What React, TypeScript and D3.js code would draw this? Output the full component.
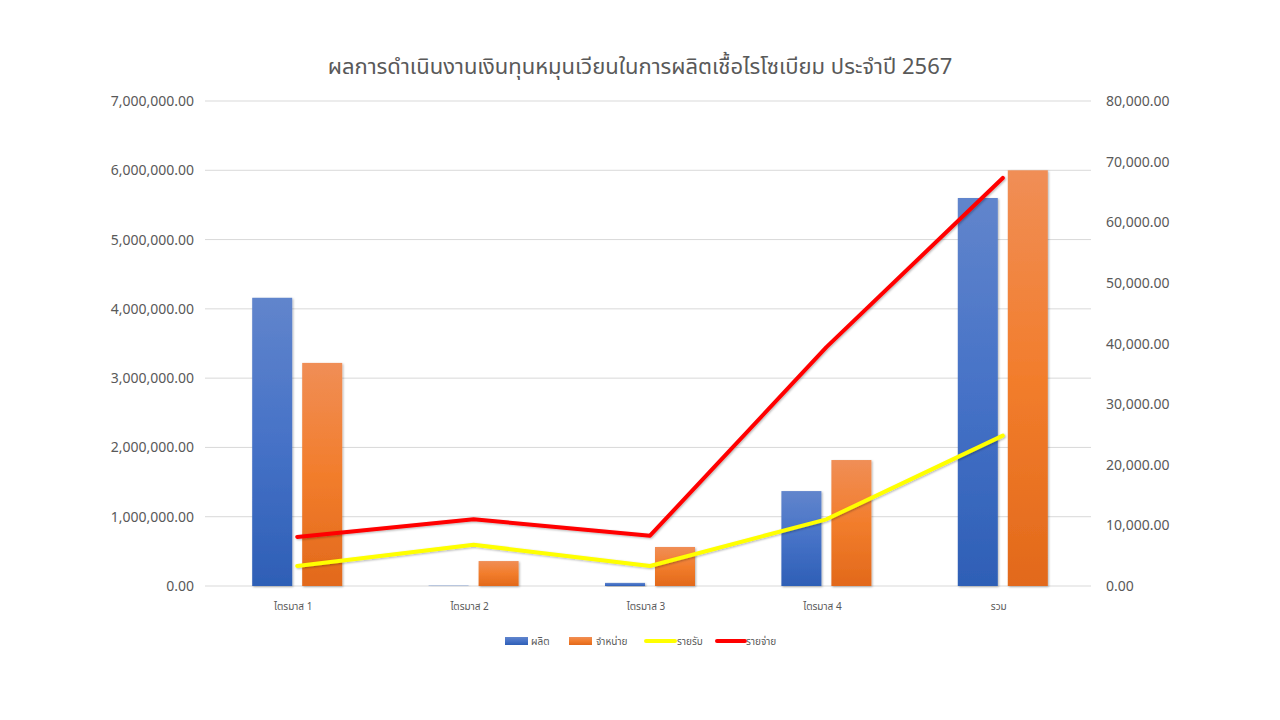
import React from "react";
import * as d3 from "d3";

const categories = ["ไตรมาส 1", "ไตรมาส 2", "ไตรมาส 3", "ไตรมาส 4", "รวม"];
const production = [4160000, 5000, 45000, 1370000, 5600000];
const sales = [3220000, 360000, 563000, 1818000, 6000000];
const income = [3300, 6800, 3300, 11000, 24800];
const expense = [8100, 11000, 8300, 39400, 67300];
const leftTicks = [0, 1000000, 2000000, 3000000, 4000000, 5000000, 6000000, 7000000];
const rightTicks = [0, 10000, 20000, 30000, 40000, 50000, 60000, 70000, 80000];

const W = 1280;
const H = 720;
const font = "'Noto Sans Thai', 'Leelawadee UI', Tahoma, 'DejaVu Sans', 'Noto Sans', sans-serif";
const fmt = d3.format(",.2f");

export default function App() {
  const left = 209;
  const right = 1091;
  const top = 101;
  const bottom = 586;

  const x = d3.scaleBand<string>().domain(categories).range([left, right]);
  const yL = d3.scaleLinear().domain([0, 7000000]).range([bottom, top]);
  const yR = d3.scaleLinear().domain([0, 80000]).range([bottom, top]);
  const barW = 40;
  const gap = 10;

  const line = d3
    .line<number>()
    .x((_, i) => x(categories[i])! + x.bandwidth() / 2)
    .y((d) => yR(d));

  return (
    <svg width={W} height={H} style={{ position: "absolute", left: 0, top: 0, fontFamily: font }}>
      <defs>
        <linearGradient id="gBlue" x1="0" y1="0" x2="0" y2="1">
          <stop offset="0%" stopColor="#6185cc" />
          <stop offset="50%" stopColor="#4672c7" />
          <stop offset="100%" stopColor="#2e5fb6" />
        </linearGradient>
        <linearGradient id="gOrange" x1="0" y1="0" x2="0" y2="1">
          <stop offset="0%" stopColor="#f08e56" />
          <stop offset="50%" stopColor="#f27d2c" />
          <stop offset="100%" stopColor="#e2691b" />
        </linearGradient>
        <filter id="shadow" x="-20%" y="-20%" width="140%" height="140%">
          <feDropShadow dx="1" dy="1" stdDeviation="1.2" floodColor="#000" floodOpacity="0.3" />
        </filter>
      </defs>
      <rect width={W} height={H} fill="#fff" />
      <text x={640} y={74} textAnchor="middle" fontSize={22} fill="#595959">
        ผลการดำเนินงานเงินทุนหมุนเวียนในการผลิตเชื้อไรโซเบียม ประจำปี 2567
      </text>

      {leftTicks.map((t) => (
        <g key={t}>
          <line x1={205} x2={1091} y1={yL(t)} y2={yL(t)} stroke="#d9d9d9" strokeWidth={1} />
          <text x={194} y={yL(t) + 5} textAnchor="end" fontSize={14} fill="#595959">
            {fmt(t)}
          </text>
        </g>
      ))}
      {rightTicks.map((t) => (
        <text key={t} x={1106} y={yR(t) + 5} textAnchor="start" fontSize={14} fill="#595959">
          {fmt(t)}
        </text>
      ))}

      {categories.map((c, i) => {
        const cx = x(c)! + x.bandwidth() / 2;
        return (
          <g key={c}>
            <rect
              x={cx - gap / 2 - barW}
              y={yL(production[i])}
              width={barW}
              height={bottom - yL(production[i])}
              fill="url(#gBlue)"
              filter="url(#shadow)"
            />
            <rect
              x={cx + gap / 2}
              y={yL(sales[i])}
              width={barW}
              height={bottom - yL(sales[i])}
              fill="url(#gOrange)"
              filter="url(#shadow)"
            />
            <text x={cx - 4} y={610} textAnchor="middle" fontSize={10} fill="#595959">
              {c}
            </text>
          </g>
        );
      })}

      <path d={line(income)!} fill="none" stroke="#ffff00" strokeWidth={4} strokeLinecap="round" strokeLinejoin="round" filter="url(#shadow)" />
      <path d={line(expense)!} fill="none" stroke="#ff0000" strokeWidth={4} strokeLinecap="round" strokeLinejoin="round" filter="url(#shadow)" />

      <g fontSize={10} fill="#595959">
        <rect x={505} y={637} width={23} height={8} fill="url(#gBlue)" />
        <text x={531} y={645}>ผลิต</text>
        <rect x={569} y={637} width={23} height={8} fill="url(#gOrange)" />
        <text x={596} y={645}>จำหน่าย</text>
        <line x1={646} x2={675} y1={641} y2={641} stroke="#ffff00" strokeWidth={4} strokeLinecap="round" />
        <text x={677} y={645}>รายรับ</text>
        <line x1={717} x2={745} y1={641} y2={641} stroke="#ff0000" strokeWidth={4} strokeLinecap="round" />
        <text x={746} y={645}>รายจ่าย</text>
      </g>
    </svg>
  );
}
